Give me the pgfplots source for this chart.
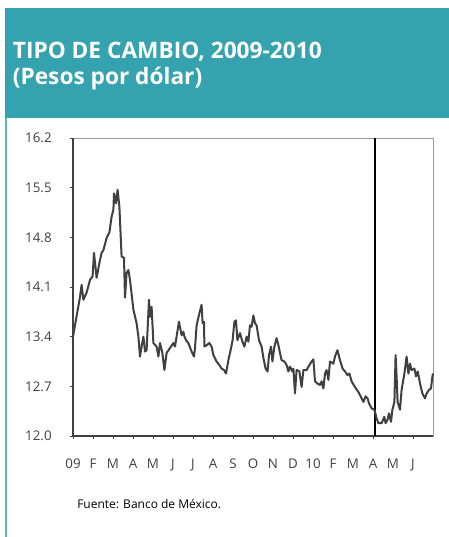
\documentclass[border=0pt]{standalone}
\usepackage{fontspec}
\setmainfont{Open Sans}
\usepackage{pgfplots}
\pgfplotsset{compat=1.18}
\definecolor{teal1}{HTML}{35A2B0}
\definecolor{ink}{HTML}{404040}
\begin{document}
\begin{tikzpicture}
\useasboundingbox (0,0) rectangle (336.75pt,-402.75pt);
\fill[white] (0,0) rectangle (336.75pt,-402.75pt);
\fill[teal1] (3.75pt,-6pt) rectangle (336.75pt,-88.5pt);
\draw[teal1!80, line width=1.4pt] (4.6pt,-88.5pt) -- (4.6pt,-402.75pt);
\node[anchor=base west, inner sep=0pt, text=white, font=\bfseries\fontsize{17}{19}\selectfont] at (9.5pt,-43.5pt) {TIPO DE CAMBIO, 2009-2010};
\node[anchor=base west, inner sep=0pt, text=white, font=\bfseries\fontsize{17}{19}\selectfont] at (9.5pt,-63pt) {(Pesos por dólar)};
\node[anchor=base west, inner sep=0pt, text=black, font=\fontsize{9}{11}\selectfont] at (57.75pt,-381pt) {Fuente: Banco de México.};
\begin{axis}[
  at={(54.75pt,-327pt)}, anchor=south west,
  scale only axis,
  width=270pt, height=223.5pt,
  xmin=0, xmax=18, ymin=12, ymax=16.2,
  xtick={0,...,17},
  xticklabels={09,F,M,A,M,J,J,A,S,O,N,D,10,F,M,A,M,J},
  ytick={12.0,12.7,13.4,14.1,14.8,15.5,16.2},
  /pgf/number format/fixed, /pgf/number format/fixed zerofill,
  /pgf/number format/precision=1, /pgf/number format/assume math mode=true,
  tick label style={font=\fontsize{10}{12}\selectfont, text=ink},
  xticklabel style={yshift=-11pt},
  yticklabel style={xshift=-10pt},
  tick align=outside, tick pos=left,
  major tick length=2.5pt,
  tick style={ink, line width=0.6pt},
  axis line style={draw=gray!80, line width=0.6pt},
  clip=false,
]
\draw[ink, line width=1.8pt] (rel axis cs:0,1) -- (rel axis cs:0,0) -- (rel axis cs:1,0);
\addplot[black, line width=1.2pt] coordinates {(15.1,12) (15.1,16.2)};
\addplot[ink, line width=1.5pt, line join=round] coordinates {
(0.00,13.40) (0.35,13.96) (0.43,14.13) (0.52,13.92) (0.68,14.02) (0.85,14.20)
(0.98,14.25) (1.05,14.58) (1.18,14.23) (1.32,14.44) (1.43,14.58) (1.52,14.62)
(1.68,14.79) (1.82,14.87) (1.93,15.09) (2.02,15.19) (2.05,15.42) (2.15,15.28)
(2.23,15.47) (2.32,15.23) (2.43,14.53) (2.55,14.51) (2.60,13.95) (2.68,14.30)
(2.77,14.34) (2.85,14.20) (3.02,13.78) (3.18,13.59) (3.27,13.40) (3.35,13.12)
(3.43,13.26) (3.52,13.40) (3.60,13.19) (3.68,13.21) (3.80,13.92) (3.85,13.68)
(3.93,13.82) (4.02,13.31) (4.18,13.26) (4.27,13.12) (4.35,13.31) (4.47,13.17)
(4.57,12.93) (4.68,13.17) (4.85,13.24) (5.02,13.31) (5.10,13.26) (5.23,13.49)
(5.30,13.61) (5.43,13.42) (5.52,13.47) (5.55,13.42) (5.65,13.35) (5.77,13.31)
(5.93,13.19) (6.05,13.12) (6.10,13.24) (6.18,13.56) (6.32,13.73) (6.43,13.85)
(6.48,13.59) (6.55,13.61) (6.57,13.26) (6.68,13.28) (6.82,13.31) (6.93,13.26)
(7.02,13.14) (7.18,13.05) (7.32,13.00) (7.43,12.95) (7.55,12.93) (7.65,12.88)
(7.77,13.07) (7.88,13.21) (7.98,13.35) (8.07,13.61) (8.15,13.63) (8.22,13.35)
(8.35,13.45) (8.47,13.33) (8.57,13.26) (8.68,13.40) (8.77,13.33) (8.85,13.56)
(8.93,13.54) (9.02,13.70) (9.10,13.59) (9.18,13.56) (9.30,13.35) (9.43,13.26)
(9.52,13.10) (9.63,12.95) (9.73,12.91) (9.80,13.14) (9.90,13.26) (9.97,13.05)
(10.07,13.26) (10.18,13.38) (10.27,13.28) (10.35,13.17) (10.43,13.07) (10.57,13.05)
(10.68,13.00) (10.77,12.91) (10.85,12.98) (10.97,12.91) (11.02,12.95) (11.10,12.60)
(11.18,12.93) (11.32,12.91) (11.43,12.69) (11.52,12.93) (11.68,12.93) (11.82,13.00)
(11.93,13.05) (12.02,13.08) (12.10,12.77) (12.22,12.74) (12.35,12.72) (12.43,12.77)
(12.52,12.67) (12.60,12.88) (12.68,12.93) (12.77,12.79) (12.85,13.05) (13.02,13.02)
(13.10,13.12) (13.22,13.21) (13.35,13.07) (13.48,12.95) (13.60,12.91) (13.72,12.86)
(13.82,12.88) (13.93,12.77) (14.10,12.69) (14.27,12.62) (14.43,12.53) (14.52,12.48)
(14.63,12.56) (14.73,12.53) (14.80,12.46) (14.93,12.39) (15.07,12.37) (15.18,12.25)
(15.27,12.18) (15.43,12.18) (15.57,12.27) (15.63,12.18) (15.73,12.23) (15.80,12.32)
(15.90,12.20) (15.97,12.37) (16.07,12.48) (16.13,13.14) (16.18,12.84) (16.23,12.48)
(16.35,12.37) (16.43,12.65) (16.57,12.88) (16.68,13.12) (16.77,12.88) (16.85,13.02)
(16.93,12.93) (17.07,12.95) (17.15,12.84) (17.24,12.91) (17.35,12.74) (17.47,12.60)
(17.60,12.53) (17.68,12.60) (17.80,12.65) (17.90,12.67) (17.97,12.84) (18.00,12.88)
};
\end{axis}
\end{tikzpicture}
\end{document}
